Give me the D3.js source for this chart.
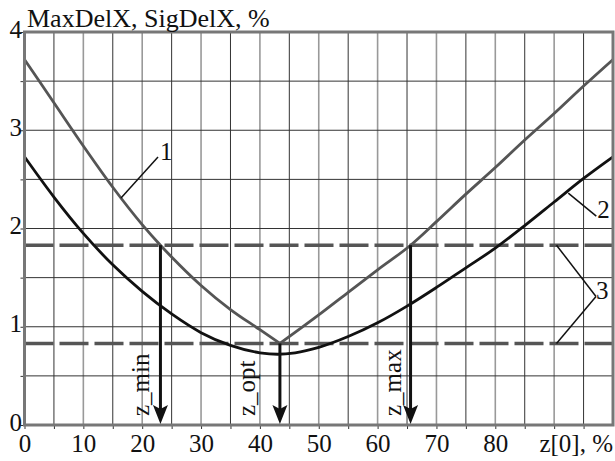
<!DOCTYPE html>
<html lang="en">
<head>
  <meta charset="UTF-8">
  <title>MaxDelX, SigDelX</title>
  <style>
      body{
          margin:0;
          background:#fff;
      }
      text{
          font-family:"Liberation Serif","Times New Roman",serif;
          font-size:25px;
          fill:#111;
      }
      .axis .domain {
          display: none;
      }
  </style>
</head>
<body>
    <svg width="615" height="461"></svg>
    <script src="https://d3js.org/d3.v7.min.js"></script>
    <script>

        // curve 1 - MaxDelX (vertex at z = 43.4)
        var zMax = [0, 5, 10, 15, 20, 23.1, 25, 30, 35, 40, 43.4, 50, 55, 60, 65.6, 70, 75, 80, 85, 90, 95, 100];
        var maxDelX = [3.72, 3.28, 2.84, 2.42, 2.04, 1.83, 1.71, 1.42, 1.175, 0.97, 0.83, 1.12, 1.35, 1.58, 1.83, 2.07, 2.35, 2.62, 2.90, 3.17, 3.45, 3.72];
        var vertexIndex = 10;

        // curve 2 - SigDelX
        var zSig = [0, 5, 10, 15, 20, 25, 30, 35, 40, 43, 46, 50, 55, 60, 65, 70, 75, 80, 85, 90, 95, 100];
        var sigDelX = [2.73, 2.32, 1.95, 1.63, 1.36, 1.13, 0.94, 0.81, 0.735, 0.72, 0.735, 0.79, 0.90, 1.04, 1.21, 1.40, 1.60, 1.80, 2.03, 2.27, 2.51, 2.73];

        // 3 - threshold levels
        var levels = [1.83, 0.83];

        // arrows
        var arrowNames = ["z_min", "z_opt", "z_max"];
        var arrowZ = [23.1, 43.4, 65.6];
        var arrowTop = [1.83, 0.83, 1.83];
        var arrowLabelGap = [11, 25, 10];

        var xTickLabels = [0, 10, 20, 30, 40, 50, 60, 70, 80];
        var yTickLabels = [0, 1, 2, 3, 4];

        var svg = d3.select("svg");

        var x = d3.scaleLinear().domain([0, 100]).range([24.5, 613]);
        var y = d3.scaleLinear().domain([0, 4]).range([425, 32]);

        var g = svg.append("g");

        // grid
        g.append("g").selectAll("line")
            .data(d3.range(5, 100, 5))
            .enter().append("line")
            .attr("x1", function(d) { return x(d); })
            .attr("x2", function(d) { return x(d); })
            .attr("y1", y(0))
            .attr("y2", y(4))
            .attr("stroke", function(d) { return d % 10 == 0 ? "#999" : "#333"; })
            .attr("stroke-width", function(d) { return d % 10 == 0 ? 1.6 : 1; });

        g.append("g").selectAll("line")
            .data(d3.range(0.5, 4, 0.5))
            .enter().append("line")
            .attr("x1", x(0))
            .attr("x2", x(100))
            .attr("y1", function(d) { return y(d); })
            .attr("y2", function(d) { return y(d); })
            .attr("stroke", "#333")
            .attr("stroke-width", 1);

        // axes (ticks + labels)
        var xAxis = g.append("g")
            .attr("class", "axis")
            .attr("transform", "translate(0," + y(0) + ")")
            .call(d3.axisBottom(x)
                .tickValues(d3.range(0, 100, 5))
                .tickSize(4)
                .tickPadding(5)
                .tickFormat(function(d) { return xTickLabels.indexOf(d) >= 0 ? d : ""; }));
        xAxis.selectAll("line").attr("stroke", "#333");
        xAxis.selectAll("text").attr("fill", "#111").style("font-size", "25px");

        var yAxis = g.append("g")
            .attr("class", "axis")
            .attr("transform", "translate(" + x(0) + ",0)")
            .call(d3.axisLeft(y)
                .tickValues(d3.range(0, 4.01, 0.5))
                .tickSize(4)
                .tickPadding(-1.5)
                .tickFormat(function(d) { return yTickLabels.indexOf(d) >= 0 ? d : ""; }));
        yAxis.selectAll("line").attr("stroke", "#333");
        yAxis.selectAll("text").attr("fill", "#111").attr("dy", "0.2em").style("font-size", "25px");

        // dashed levels
        g.append("g").selectAll("line")
            .data(levels)
            .enter().append("line")
            .attr("x1", x(0))
            .attr("x2", x(100))
            .attr("y1", function(d) { return y(d); })
            .attr("y2", function(d) { return y(d); })
            .attr("stroke", "#555")
            .attr("stroke-width", 3.5)
            .attr("stroke-dasharray", "29,6");

        // curves
        var line = d3.line()
            .x(function(d) { return x(d[0]); })
            .y(function(d) { return y(d[1]); })
            .curve(d3.curveMonotoneX);

        var pts1 = d3.zip(zMax, maxDelX);
        // two branches so the vertex stays sharp
        [pts1.slice(0, vertexIndex + 1), pts1.slice(vertexIndex)].forEach(function(branch) {
            g.append("path")
                .datum(branch)
                .attr("fill", "none")
                .attr("stroke", "#555")
                .attr("stroke-width", 2.8)
                .attr("stroke-linejoin", "round")
                .attr("d", line);
        });

        g.append("path")
            .datum(d3.zip(zSig, sigDelX))
            .attr("fill", "none")
            .attr("stroke", "#111")
            .attr("stroke-width", 2.8)
            .attr("d", line);

        // borders
        g.append("rect")
            .attr("x", x(0))
            .attr("y", y(4))
            .attr("width", x(100) - x(0))
            .attr("height", y(0) - y(4))
            .attr("fill", "none")
            .attr("stroke", "#777")
            .attr("stroke-width", 3);

        // arrows
        var arrows = arrowNames.map(function(n, i) {
            return {name: n, z: arrowZ[i], top: arrowTop[i], gap: arrowLabelGap[i]};
        });

        var ag = g.append("g").selectAll("g")
            .data(arrows)
            .enter().append("g");

        ag.append("line")
            .attr("x1", function(d) { return x(d.z); })
            .attr("x2", function(d) { return x(d.z); })
            .attr("y1", function(d) { return y(d.top); })
            .attr("y2", y(0) - 12)
            .attr("stroke", "#111")
            .attr("stroke-width", 3);

        ag.append("path")
            .attr("d", function(d) {
                var cx = x(d.z), ty = y(0) - 1;
                return "M" + cx + "," + ty + "L" + (cx - 7.5) + "," + (ty - 19) +
                       "L" + cx + "," + (ty - 15) + "L" + (cx + 7.5) + "," + (ty - 19) + "Z";
            })
            .attr("fill", "#111");

        ag.append("text")
            .attr("transform", function(d) {
                return "translate(" + (x(d.z) - d.gap) + "," + 416 + ") rotate(-90)";
            })
            .text(function(d) { return d.name; });

        // curve annotations
        var p1 = [x(16.4), y(2.31)];
        g.append("line")
            .attr("x1", p1[0]).attr("y1", p1[1])
            .attr("x2", p1[0] + 37).attr("y2", p1[1] - 41)
            .attr("stroke", "#111").attr("stroke-width", 1.5);
        g.append("text").attr("x", p1[0] + 39).attr("y", p1[1] - 38).text("1");

        var p2 = [x(92.4), y(2.36)];
        g.append("line")
            .attr("x1", p2[0]).attr("y1", p2[1])
            .attr("x2", p2[0] + 28).attr("y2", p2[1] + 23)
            .attr("stroke", "#111").attr("stroke-width", 1.5);
        g.append("text").attr("x", p2[0] + 29).attr("y", p2[1] + 25).text("2");

        var v3 = [596, 296.5];
        g.append("g").selectAll("line")
            .data(levels)
            .enter().append("line")
            .attr("x1", x(90.4))
            .attr("y1", function(d) { return y(d); })
            .attr("x2", v3[0])
            .attr("y2", v3[1])
            .attr("stroke", "#111")
            .attr("stroke-width", 1.5);
        g.append("text").attr("x", v3[0]).attr("y", v3[1] + 2).text("3");

        // titles
        g.append("text").attr("x", 27).attr("y", 27).style("font-size", "26px").text("MaxDelX, SigDelX, %");
        g.append("text").attr("x", 613).attr("y", 452).attr("text-anchor", "end").text("z[0], %");

    </script>
</body>
</html>
